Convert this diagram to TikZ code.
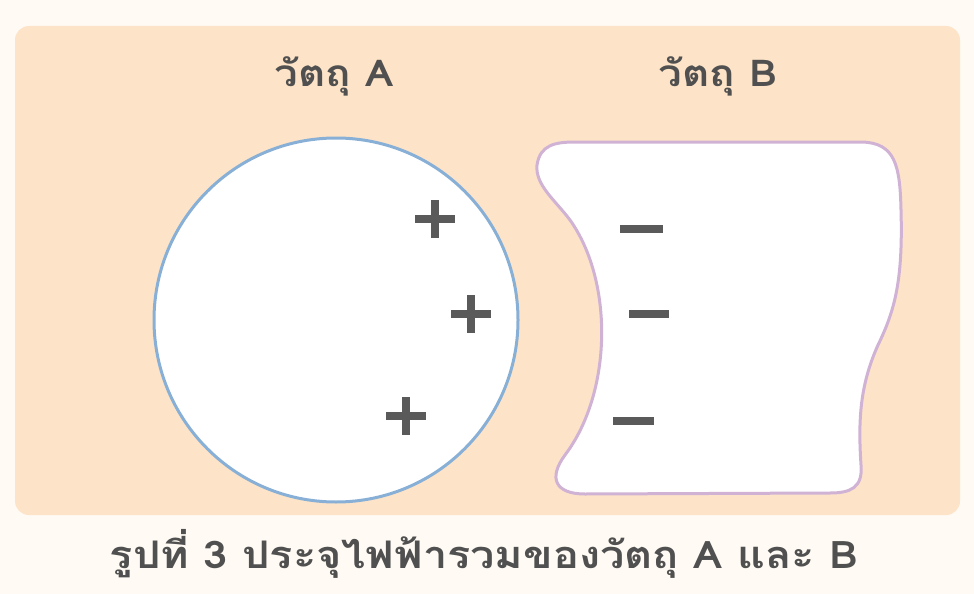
\documentclass[tikz,border=0pt]{standalone}
\usepackage{graphicx}
\usepackage{fontspec}
\newfontfamily\thaifont[Script=Thai]{Loma}
\definecolor{outerbg}{HTML}{FFFAF3}
\definecolor{peach}{HTML}{FDE4C8}
\definecolor{circline}{HTML}{88B0D6}
\definecolor{shapeline}{HTML}{D0B2D5}
\definecolor{chargecol}{HTML}{5A5A5A}
\definecolor{textcol}{HTML}{505050}
\begin{document}
\begin{tikzpicture}[x=1pt,y=-1pt,
  lbl/.style={font=\thaifont\bfseries\fontsize{37}{44}\selectfont, text=textcol, inner sep=0pt},
  captxt/.style={font=\thaifont\bfseries\fontsize{38}{45}\selectfont, text=textcol, inner sep=0pt},
  chg/.style={draw=chargecol, line width=8pt, line cap=butt}]
\useasboundingbox (0,0) rectangle (974,594);
\fill[outerbg] (0,0) rectangle (974,594);
\fill[peach, rounded corners=14pt] (15,26) rectangle (960,515);
% object A
\draw[circline, line width=3pt, fill=white] (336,320) circle[radius=182];
% object B
\draw[shapeline, line width=3pt, fill=white]
  (575,142) -- (862,142)
  .. controls (895,143) and (900,165) .. (901,210)
  .. controls (903,280) and (895,310) .. (878,345)
  .. controls (860,385) and (858,420) .. (861,465)
  .. controls (863,488) and (850,493) .. (830,493)
  -- (585,494)
  .. controls (555,494) and (548,478) .. (565,455)
  .. controls (612,393) and (614,282) .. (570,220)
  .. controls (555,200) and (535,185) .. (537,165)
  .. controls (540,145) and (555,142) .. (575,142) -- cycle;
% plus charges
\foreach \cx/\cy in {435/219, 471/314, 406/416}{
  \draw[chg] (\cx-20,\cy) -- (\cx+20,\cy);
  \draw[chg] (\cx,\cy-19) -- (\cx,\cy+19);
}
% minus charges
\foreach \ax/\bx/\cy in {620/663/229, 629/669/314, 613/654/421}{
  \draw[chg] (\ax,\cy) -- (\bx,\cy);
}
\node[lbl] (labA) at (334,76) {\scalebox{1.14}[1]{วัตถุ A}};
\node[lbl] (labB) at (718,76) {\scalebox{1.14}[1]{วัตถุ B}};
\node[captxt] (caption) at (484,554) {\scalebox{1.14}[1]{รูปที่ 3 ประจุไฟฟ้ารวมของวัตถุ A และ B}};
\end{tikzpicture}
\end{document}
